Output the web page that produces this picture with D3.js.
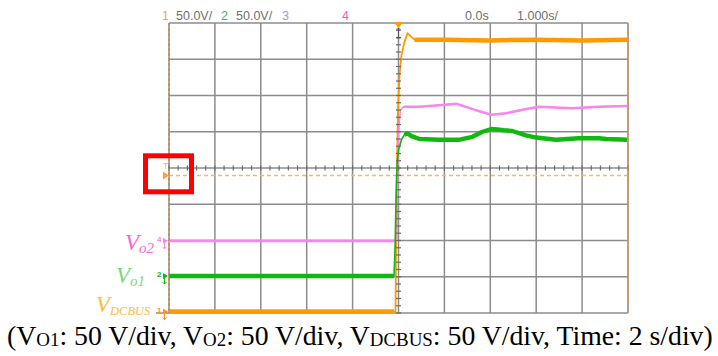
<!DOCTYPE html>
<html><head><meta charset="utf-8">
<script src="https://cdn.jsdelivr.net/npm/d3@7"></script>
<style>body{margin:0;background:#fff}svg{display:block}</style>
</head><body>
<svg id="c" width="718" height="356"></svg>
<script>
// Scope capture: time in seconds (0 = trigger), channel voltages in volts.
const vdcbus = [[-5,0],[-2.5,0],[-0.098,0],[-0.065,0],[-0.043,168],[-0.011,278],[0.022,326],[0.065,354],[0.13,372],[0.196,384],[0.26,380],[0.348,375],[1,375],[2,374],[3,375],[4,374],[4.98,375]];
const vo1 = [[-5,0],[-2.5,0],[-0.098,0],[-0.076,36],[-0.054,105],[-0.033,153],[0,174],[0.065,188],[0.13,195],[0.196,197],[0.283,193],[0.457,189],[0.891,188],[1.33,188],[1.61,192],[1.83,199],[2.04,203],[2.3,201],[2.48,200],[2.78,194],[3.0,191],[3.43,188],[3.93,190],[4.37,190],[4.52,189],[4.98,188]];
const vo2 = [[-5,0],[-2.5,0],[-0.033,0],[-0.022,56],[-0.011,111],[0.011,160],[0.043,180],[0.109,185],[0.457,185],[0.891,187],[1.26,189],[1.65,181],[2.02,174],[2.35,176],[2.78,182],[3.07,185],[3.78,183],[4.37,185],[4.98,186]];

const headerItems = [
  {text:"1", x:162, color:"#ffa030"},
  {text:"50.0V/", x:176, color:"#707070"},
  {text:"2", x:221, color:"#3cc43c"},
  {text:"50.0V/", x:236, color:"#707070"},
  {text:"3", x:282, color:"#8a9cff"},
  {text:"4", x:342, color:"#ff55c0"},
  {text:"0.0s", x:465, color:"#707070"},
  {text:"1.000s/", x:517, color:"#707070"}
];

const captionParts = [["(V",0],["O1",1],[": 50 V/div, V",0],["O2",1],[": 50 V/div, V",0],["DCBUS",1],[": 50 V/div, Time: 2 s/div)",0]];

const voltsPerDiv = 50, hDivs = 10, vDivs = 8;
const plot = {left:169, right:628, top:23, bottom:313};

const channels = [
  {id:"1", data:vdcbus, offset:0.04, color:"#ff9a00", thin:1.8, thick:4.5, pre:[-5,-0.098], post:[0.30,5],
   label:{main:"V", sub:"DCBUS", subSize:12.5, x:96, y:312, color:"#ffbb3a"}},
  {id:"4", data:vo2, offset:1.99, color:"#f985f0", thin:1.5, thick:2.6, pre:[-5,-0.033], post:[0.10,5],
   label:{main:"V", sub:"o2", subSize:15, x:125, y:250, color:"#f766df"}},
  {id:"2", data:vo1, offset:1.02, color:"#10b810", thin:1.6, thick:4.4, pre:[-5,-0.098], post:[0.10,5],
   label:{main:"V", sub:"o1", subSize:15, x:116, y:283, color:"#7ed67e"}}
];

const svg = d3.select("#c");
const x = d3.scaleLinear().domain([-5,5]).range([plot.left, plot.right]);
const div = d3.scaleLinear().domain([0, vDivs]).range([plot.bottom, plot.top]);
const cx = x(0), cy = div(vDivs/2);

// graticule
const g = svg.append("g").attr("stroke","#8c8c8c").attr("stroke-width",1.5);
d3.range(0, hDivs+1).forEach(i => {
  const xx = plot.left + i*(plot.right-plot.left)/hDivs;
  g.append("line").attr("x1",xx).attr("x2",xx).attr("y1",plot.top).attr("y2",plot.bottom);
});
d3.range(0, vDivs+1).forEach(i => {
  const yy = div(i);
  g.append("line").attr("x1",plot.left).attr("x2",plot.right).attr("y1",yy).attr("y2",yy);
});
g.append("line").attr("x1",156).attr("x2",plot.left).attr("y1",plot.bottom).attr("y2",plot.bottom);

// trigger level (dashed)
svg.append("line").attr("x1",plot.left).attr("x2",plot.right).attr("y1",175.5).attr("y2",175.5)
  .attr("stroke","#ffb45c").attr("stroke-width",1.6).attr("stroke-dasharray","4,3");

// traces
channels.forEach(ch => {
  const y = d3.scaleLinear().domain([-ch.offset*voltsPerDiv, (vDivs-ch.offset)*voltsPerDiv]).range([plot.bottom, plot.top]);
  const line = d3.line().x(d => x(d[0])).y(d => y(d[1]));
  svg.append("path").attr("d", line(ch.data)).attr("fill","none")
    .attr("stroke", ch.color).attr("stroke-width", ch.thin).attr("stroke-linejoin","round");
  [ch.pre, ch.post].forEach(w => {
    const seg = ch.data.filter(d => d[0] >= w[0] && d[0] <= w[1]);
    svg.append("path").attr("d", line(seg)).attr("fill","none")
      .attr("stroke", ch.color).attr("stroke-width", ch.thick).attr("stroke-linejoin","round");
  });
  ch.y = y;
});

// center axis minor ticks
const tg = svg.append("g").attr("stroke","#6a6a6a").attr("stroke-width",1.2);
d3.range(0, hDivs*5+1).forEach(i => {
  const xx = plot.left + i*(plot.right-plot.left)/(hDivs*5);
  tg.append("line").attr("x1",xx).attr("x2",xx).attr("y1",cy-2.5).attr("y2",cy+2.5);
});
d3.range(0, vDivs*5+1).forEach(i => {
  const yy = plot.top + i*(plot.bottom-plot.top)/(vDivs*5);
  tg.append("line").attr("x1",cx-2.5).attr("x2",cx+2.5).attr("y1",yy).attr("y2",yy);
});

// record edges
svg.append("line").attr("x1",plot.left).attr("x2",plot.left).attr("y1",plot.top).attr("y2",plot.bottom)
  .attr("stroke","#d0803a").attr("stroke-width",1.2).attr("stroke-dasharray","3,2");
svg.append("line").attr("x1",plot.right).attr("x2",plot.right).attr("y1",plot.top).attr("y2",plot.bottom)
  .attr("stroke","#d89050").attr("stroke-width",1);

// trigger position marker
svg.append("path").attr("d",`M${cx-4.5},${plot.top-1}L${cx+4.5},${plot.top-1}L${cx},${plot.top+5}Z`).attr("fill","#ff9a00");
svg.append("path").attr("d",`M${cx-2},${plot.top+6}H${cx+2}M${cx},${plot.top+6}V${plot.top+15}M${cx-2},${plot.top+15}H${cx+2}`)
  .attr("stroke","#555").attr("stroke-width",1).attr("fill","none");
// trigger level marker
svg.append("path").attr("d",`M163,171.5L169,175.5L163,179.5Z`).attr("fill","#ffa030");
svg.append("text").attr("x",163).attr("y",169).attr("font-family","Liberation Sans, sans-serif")
  .attr("font-size",9).attr("fill","#ffb060").text("T");

// channel ground markers
channels.forEach(ch => {
  const yy = ch.y(0);
  svg.append("path").attr("d",`M${163},${yy-3}L${168},${yy}L${163},${yy+3}Z`).attr("fill",ch.color);
  svg.append("path").attr("d",`M${164.5},${yy+2}V${yy+8}M${162.5},${yy+6}L${164.5},${yy+8}L${166.5},${yy+6}`)
    .attr("stroke",ch.color).attr("stroke-width",1).attr("fill","none");
  svg.append("text").attr("x",157).attr("y",yy+1).attr("font-family","Liberation Sans, sans-serif")
    .attr("font-size",8).attr("font-weight","bold").attr("fill",ch.color).text(ch.id);
});

// trace labels
channels.forEach(ch => {
  const t = svg.append("text").attr("x",ch.label.x).attr("y",ch.label.y)
    .attr("font-family","Liberation Serif, serif").attr("font-style","italic")
    .attr("font-size",23).attr("fill",ch.label.color);
  t.append("tspan").text(ch.label.main);
  t.append("tspan").attr("font-size",ch.label.subSize).attr("dy",3).text(ch.label.sub);
});

// header readout
svg.append("g").selectAll("text").data(headerItems).join("text")
  .attr("x",d=>d.x).attr("y",20).attr("font-family","Liberation Sans, sans-serif")
  .attr("font-size",12.5).attr("fill",d=>d.color).text(d=>d.text);

// highlight box
svg.append("rect").attr("x",145.5).attr("y",155.8).attr("width",46).attr("height",36)
  .attr("fill","none").attr("stroke","#ff0000").attr("stroke-width",5);

// caption
const cap = svg.append("text").attr("x",7).attr("y",345)
  .attr("font-family","Liberation Serif, serif").attr("font-size",22).attr("fill","#000");
captionParts.forEach((p,i) => {
  const prevSub = i>0 && captionParts[i-1][1];
  const s = cap.append("tspan").text(p[0]).attr("dy", p[1] ? 1 : (prevSub ? -1 : 0));
  if (p[1]) s.attr("font-size",15);
});
const w = cap.node().getComputedTextLength();
const fs = 22*706/w;
cap.attr("font-size",fs);
cap.selectAll("tspan").each(function(d,i){ if (captionParts[i][1]) d3.select(this).attr("font-size",fs*15/22); });
</script>
</body></html>
